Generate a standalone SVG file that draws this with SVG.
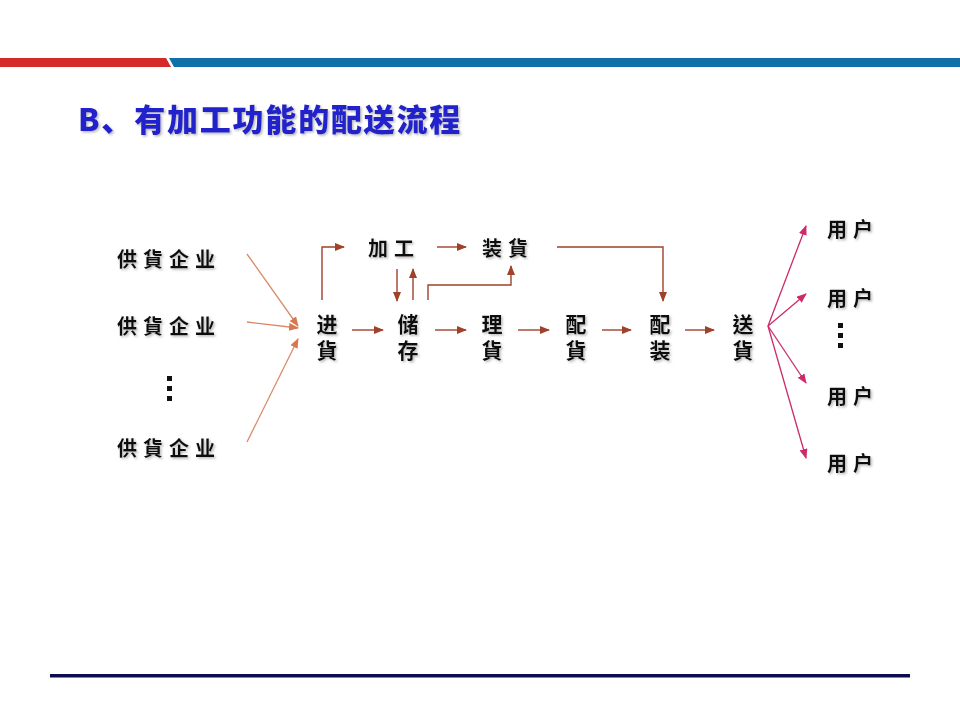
<svg xmlns="http://www.w3.org/2000/svg" width="960" height="720" viewBox="0 0 960 720">
<defs>
<style>
.t{font-family:"Noto Sans CJK TC","Noto Sans CJK SC",sans-serif;font-weight:bold;font-size:20px;fill:#111;letter-spacing:6px;dominant-baseline:central;filter:url(#sh)}
.v{font-family:"Noto Sans CJK TC","Noto Sans CJK SC",sans-serif;font-weight:bold;font-size:21px;fill:#111;writing-mode:tb;letter-spacing:5px;filter:url(#sh)}
.o{fill:none;stroke:#d98a68;stroke-width:1.3}
.b{fill:none;stroke:#a0412a;stroke-width:1.4}
.p{fill:none;stroke:#cc2a6a;stroke-width:1.3}
.dot{fill:#111}
</style>
<filter id="sh" x="-20%" y="-20%" width="140%" height="140%">
<feDropShadow dx="1.5" dy="1.5" stdDeviation="1" flood-color="#888" flood-opacity="0.6"/>
</filter>
<marker id="ao" markerWidth="10" markerHeight="8" refX="9" refY="4" orient="auto" markerUnits="userSpaceOnUse"><path d="M0,0 L10,4 L0,8 Z" fill="#d9784f"/></marker>
<marker id="ab" markerWidth="10" markerHeight="8" refX="9" refY="4" orient="auto" markerUnits="userSpaceOnUse"><path d="M0,0 L10,4 L0,8 Z" fill="#a0412a"/></marker>
<marker id="ap" markerWidth="10" markerHeight="8" refX="9" refY="4" orient="auto" markerUnits="userSpaceOnUse"><path d="M0,0 L10,4 L0,8 Z" fill="#cc2a6a"/></marker>
</defs>
<rect width="960" height="720" fill="#fff"/>
<!-- header bar -->
<polygon points="0,58 166,58 171,67 0,67" fill="#d42a2a"/>
<polygon points="169,58 960,58 960,67 174,67" fill="#1070a8"/>
<!-- title -->
<text x="78" y="131" font-family="'Noto Sans CJK SC','Noto Sans CJK TC',sans-serif" font-weight="900" font-size="31" fill="#2222cc" letter-spacing="1.8" filter="url(#sh)">B、有加工功能的配送流程</text>
<!-- bottom line -->
<rect x="50" y="674" width="860" height="3.5" fill="#0c0c50"/>

<g id="connectors">
<line class="o" x1="247" y1="254" x2="298" y2="326" marker-end="url(#ao)"/>
<line class="o" x1="247" y1="322" x2="298" y2="328" marker-end="url(#ao)"/>
<line class="o" x1="247" y1="442" x2="298" y2="339" marker-end="url(#ao)"/>
<line class="b" x1="352" y1="330" x2="383" y2="330" marker-end="url(#ab)"/>
<line class="b" x1="435" y1="330" x2="466" y2="330" marker-end="url(#ab)"/>
<line class="b" x1="518" y1="330" x2="549" y2="330" marker-end="url(#ab)"/>
<line class="b" x1="602" y1="330" x2="631" y2="330" marker-end="url(#ab)"/>
<line class="b" x1="685" y1="330" x2="714" y2="330" marker-end="url(#ab)"/>
<polyline class="b" points="322,300 322,247 344,247" marker-end="url(#ab)"/>
<line class="b" x1="437" y1="247" x2="466" y2="247" marker-end="url(#ab)"/>
<line class="b" x1="397" y1="269" x2="397" y2="301" marker-end="url(#ab)"/>
<line class="b" x1="413" y1="300" x2="413" y2="269" marker-end="url(#ab)"/>
<polyline class="b" points="428,300 428,285 511,285 511,266" marker-end="url(#ab)"/>
<polyline class="b" points="557,247 663,247 663,301" marker-end="url(#ab)"/>
<line class="p" x1="768" y1="326" x2="806" y2="226" marker-end="url(#ap)"/>
<line class="p" x1="768" y1="326" x2="806" y2="294" marker-end="url(#ap)"/>
<line class="p" x1="768" y1="326" x2="806" y2="383" marker-end="url(#ap)"/>
<line class="p" x1="768" y1="326" x2="806" y2="458" marker-end="url(#ap)"/>
</g>

<g id="supplier1"><text class="t" x="117" y="258">供貨企业</text></g>
<g id="supplier2"><text class="t" x="117" y="325">供貨企业</text></g>
<g id="supplier-dots"><rect class="dot" x="167" y="376" width="5" height="5"/><rect class="dot" x="167" y="386" width="5" height="5"/><rect class="dot" x="167" y="396" width="5" height="5"/></g>
<g id="supplier3"><text class="t" x="117" y="447">供貨企业</text></g>

<g id="jinhuo"><text class="v" x="327" y="314">进貨</text></g>
<g id="chucun"><text class="v" x="408" y="314">储存</text></g>
<g id="lihuo"><text class="v" x="492" y="314">理貨</text></g>
<g id="peihuo"><text class="v" x="576" y="314">配貨</text></g>
<g id="peizhuang"><text class="v" x="660" y="314">配装</text></g>
<g id="songhuo"><text class="v" x="743" y="314">送貨</text></g>
<g id="jiagong"><text class="t" x="368" y="247" letter-spacing="9">加工</text></g>
<g id="zhuanghuo"><text class="t" x="482" y="247">装貨</text></g>

<g id="user1"><text class="t" x="827" y="228">用户</text></g>
<g id="user2"><text class="t" x="827" y="297">用户</text></g>
<g id="user-dots"><rect class="dot" x="838" y="323" width="5" height="5"/><rect class="dot" x="838" y="333" width="5" height="5"/><rect class="dot" x="838" y="343" width="5" height="5"/></g>
<g id="user3"><text class="t" x="827" y="395">用户</text></g>
<g id="user4"><text class="t" x="827" y="462">用户</text></g>
</svg>
